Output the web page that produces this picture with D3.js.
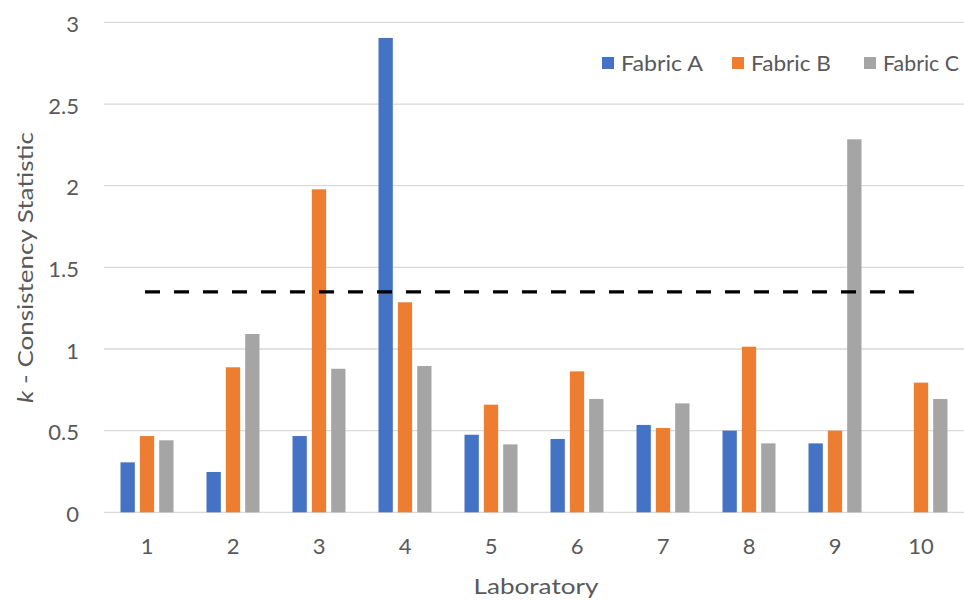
<!DOCTYPE html>
<html><head><meta charset="utf-8">
<script src="https://cdn.jsdelivr.net/npm/d3@7"></script>
<style>body{margin:0;background:#fff;} text{font-family:Lato,"Open Sans",sans-serif;fill:#595959;}</style>
</head><body>
<svg id="c" width="964" height="601"></svg>
<script>
const labs = ["1","2","3","4","5","6","7","8","9","10"];
const seriesNames = ["Fabric A","Fabric B","Fabric C"];
const fabricA = [0.306,0.247,0.467,2.905,0.475,0.449,0.535,0.500,0.422,null];
const fabricB = [0.467,0.888,1.978,1.286,0.659,0.863,0.516,1.014,0.500,0.794];
const fabricC = [0.441,1.092,0.879,0.896,0.416,0.694,0.667,0.422,2.284,0.694];
const colors = ["#4472C4","#ED7D31","#A5A5A5"];
const yTicks = [0,0.5,1,1.5,2,2.5,3];
const kCritical = 1.35;

const svg = d3.select("#c");
const m = {l:104, r:964, t:22.4, b:512.3};
const x = d3.scaleBand().domain(labs).range([m.l, m.r]).paddingInner(0).paddingOuter(0);
const x1 = d3.scaleBand().domain(seriesNames).range([x.bandwidth()/2-26.5, x.bandwidth()/2+26.5]).paddingInner(0.26).paddingOuter(0);
const y = d3.scaleLinear().domain([0,3]).range([m.b, m.t]);

// stretch a text element horizontally (in its own frame) to a target length
function fit(node, target, pre){
  const w = node.getComputedTextLength();
  const s = target / w;
  d3.select(node).attr("transform", (pre||"") + ` scale(${s},1)`);
  return s;
}

// gridlines
svg.append("g").selectAll("line").data(yTicks).join("line")
  .attr("x1", m.l).attr("x2", m.r)
  .attr("y1", d=>y(d)).attr("y2", d=>y(d))
  .attr("stroke", "#d9d9d9").attr("stroke-width", 1.3);

// y axis labels
const yAxis = d3.axisLeft(y).tickValues(yTicks).tickSize(0).tickPadding(0).tickFormat(d=>String(d));
const gy = svg.append("g").attr("transform","translate(79,1.5)").call(yAxis);
gy.select(".domain").remove();
gy.selectAll("text").style("font-size","22px").attr("fill","#595959").attr("dy","0.35em");

// x axis labels
const xAxis = d3.axisBottom(x).tickSize(0).tickPadding(0);
const gx = svg.append("g").attr("transform",`translate(0,${m.b})`).call(xAxis);
gx.select(".domain").remove();
gx.selectAll("text").style("font-size","22px").attr("fill","#595959").attr("y", 42).attr("dy", 0);

// bars
const data = labs.map((l,i)=>({lab:l, vals:[fabricA[i],fabricB[i],fabricC[i]]}));
const groups = svg.append("g").selectAll("g").data(data).join("g")
  .attr("transform", d=>`translate(${x(d.lab)},0)`);
groups.selectAll("rect").data(d=>d.vals.map((v,j)=>({v, s:seriesNames[j], c:colors[j]})).filter(e=>e.v!==null))
  .join("rect")
  .attr("x", d=>x1(d.s)).attr("width", x1.bandwidth())
  .attr("y", d=>y(d.v)).attr("height", d=>y(0)-y(d.v))
  .attr("fill", d=>d.c);

// dashed line
svg.append("line")
  .attr("x1", x(labs[0])+x.bandwidth()/2-2).attr("x2", x(labs[labs.length-1])+x.bandwidth()/2-6)
  .attr("y1", y(kCritical)).attr("y2", y(kCritical))
  .attr("stroke","#000").attr("stroke-width",3.2).attr("stroke-dasharray","15,14");

// axis titles
const xt = svg.append("text").attr("x", 0).attr("y", 0)
  .attr("text-anchor","middle").style("font-size","22px").text("Laboratory");
fit(xt.node(), 125, `translate(${(m.l+m.r)/2+2},594)`);

const yt = svg.append("text").attr("x",0).attr("y",0)
  .attr("text-anchor","middle").style("font-size","21px");
yt.append("tspan").style("font-style","italic").text("k");
yt.append("tspan").text(" - Consistency Statistic");
fit(yt.node(), 271, "translate(33,267.5) rotate(-90)");

// legend
const legX = [602, 732, 864];
const legW = [82, 80, 76];
const leg = svg.append("g").selectAll("g").data(seriesNames).join("g")
  .attr("transform",(d,i)=>`translate(${legX[i]},57)`);
leg.append("rect").attr("width",12).attr("height",12).attr("fill",(d,i)=>colors[i]);
leg.append("text").attr("x",0).attr("y",0).attr("dy","0.36em").style("font-size","21px").text(d=>d)
  .each(function(d,i){ fit(this, legW[i], "translate(19,6)"); });
</script>
</body></html>
